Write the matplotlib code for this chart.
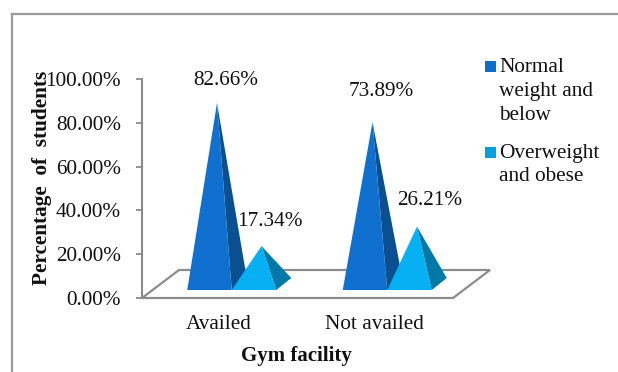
import matplotlib
matplotlib.use('Agg')
import matplotlib.pyplot as plt
from matplotlib.patches import Polygon, Rectangle

plt.rcParams['font.family'] = ['Liberation Serif', 'DejaVu Serif']

categories = ['Availed', 'Not availed']
normal_weight = [82.66, 73.89]
overweight = [17.34, 26.21]
series_names = ['Normal\nweight and\nbelow', 'Overweight\nand obese']
y_ticks = [0, 20, 40, 60, 80, 100]

W, H = 618, 372
GRAY = '#8c8c8c'
INK = '#111111'
FS = 15.3
BLUE = ('#0f70d0', '#0a4f90')
CYAN = ('#06b0f2', '#0079a8')


def px_rect(left, top, right, bottom):
    # pixel box (y measured from the top) to figure fractions
    return [left / W, 1 - bottom / H, (right - left) / W, (bottom - top) / H]


fig = plt.figure(figsize=(W / 100, H / 100), dpi=100, facecolor='white')

# outer chart frame
frame = fig.add_axes([0, 0, 1, 1])
frame.set_xlim(0, W)
frame.set_ylim(H, 0)
frame.axis('off')
frame.plot([12, 12, 618], [372, 14, 14], color='#9a9a9a', lw=1.6, solid_joinstyle='miter')

ax = fig.add_axes(px_rect(142, 79, 453, 298))
ax.set_xlim(0, 2)
ax.set_ylim(0, 100)
ax.patch.set_alpha(0)
for side in ['top', 'right', 'bottom']:
    ax.spines[side].set_visible(False)
ax.spines['left'].set_color(GRAY)
ax.spines['left'].set_linewidth(1.5)
ax.set_xticks([])
ax.set_yticks(y_ticks)
ax.set_yticklabels(['%.2f%%' % v for v in y_ticks], fontsize=FS, color=INK)
ax.tick_params(axis='y', length=4.5, width=1.3, color=GRAY, pad=10.5)

# pixels to data units on this axes
ux = 2 / 311
uy = 100 / 219

# floor of the 3d box
floor_dx, floor_dy = 37 * ux, 28 * uy
ax.add_patch(Polygon([(0, 0), (2, 0), (2 + floor_dx, floor_dy), (floor_dx, floor_dy)],
                     closed=True, fc='white', ec=GRAY, lw=1.6, clip_on=False, zorder=1))


def pyramid(x_left, value, colors, z):
    # front face plus the shaded right face, apex sits above the base centre
    w = 44.5 * ux
    base = 8 * uy
    dx, dy = 15 * ux, 12 * uy
    apex = (x_left + w / 2 + dx / 2, base + dy / 2 + value)
    ax.add_patch(Polygon([(x_left + w, base), (x_left + w + dx, base + dy), apex],
                         closed=True, fc=colors[1], ec='none', clip_on=False, zorder=z))
    ax.add_patch(Polygon([(x_left, base), (x_left + w, base), apex],
                         closed=True, fc=colors[0], ec='none', clip_on=False, zorder=z + 0.5))
    return apex


depth_shift = 12 * ux
for i, name in enumerate(categories):
    centre = i + 0.5 + depth_shift
    w = 44.5 * ux
    pyramid(centre - w, normal_weight[i], BLUE, 3)
    pyramid(centre, overweight[i], CYAN, 4)
    ax.text(i + 0.5 - 1 * ux, -7.8, name, ha='center', va='top', fontsize=FS, color=INK)

# value labels
label_x = [[226, 270], [381, 430]]
label_y = [[80.5, 222], [92, 200.5]]
for i in range(2):
    frame.text(label_x[i][0], label_y[i][0], '%.2f%%' % normal_weight[i], ha='center', va='center',
               fontsize=FS, color=INK, zorder=10)
    frame.text(label_x[i][1], label_y[i][1], '%.2f%%' % overweight[i], ha='center', va='center',
               fontsize=FS, color=INK, zorder=10)

# axis titles
frame.text(42.5, 178, 'Percentage  of  students', rotation=90, ha='center', va='center',
           fontsize=15.3, fontweight='bold', color=INK)
frame.text(296.5, 356, 'Gym facility', ha='center', va='center',
           fontsize=15, fontweight='bold', color=INK)

# legend
frame.add_patch(Rectangle((485, 61), 11, 11, fc='#0f6cc8', ec='none'))
frame.add_patch(Rectangle((485, 147), 11, 11, fc='#049fdc', ec='none'))
frame.text(499, 91.5, series_names[0], ha='left', va='center', fontsize=FS, color=INK, linespacing=1.38)
frame.text(499, 165, series_names[1], ha='left', va='center', fontsize=FS, color=INK, linespacing=1.31)

fig.savefig('out.png', dpi=100)
